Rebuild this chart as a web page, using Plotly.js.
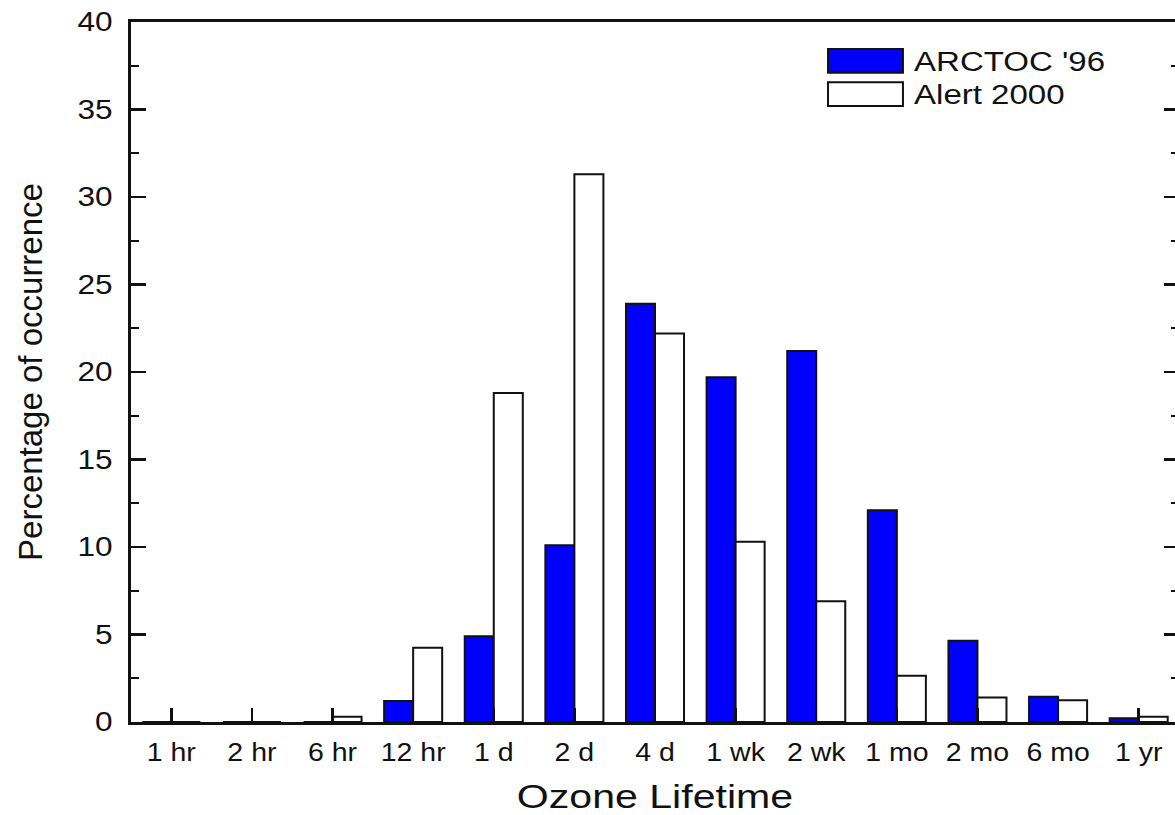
<!DOCTYPE html>
<html>
<head>
<meta charset="utf-8">
<script src="https://cdn.plot.ly/plotly-3.0.1.min.js"></script>
<style>
  html, body { margin: 0; padding: 0; overflow: hidden; background: #fff; }
  #chart { width: 1181px; height: 815px; }
</style>
</head>
<body>
<div id="chart"></div>
<script>
// Ozone lifetime classes
const lifetimes = ["1 hr", "2 hr", "6 hr", "12 hr", "1 d", "2 d", "4 d", "1 wk", "2 wk", "1 mo", "2 mo", "6 mo", "1 yr"];

// Percentage of occurrence for each campaign
const arctoc96 = [0, 0, 0, 1.2, 4.9, 10.1, 23.9, 19.7, 21.2, 12.1, 4.65, 1.45, 0.22];
const alert2000 = [0, 0, 0.3, 4.25, 18.8, 31.3, 22.2, 10.3, 6.9, 2.65, 1.4, 1.25, 0.3];

const seriesNames = ["ARCTOC '96", "Alert 2000"];
const seriesColors = ["#0000ff", "#ffffff"];

const yTicks = [0, 5, 10, 15, 20, 25, 30, 35, 40];

const xTitle = "Ozone Lifetime";
const yTitle = "Percentage of occurrence";

const font = "Liberation Sans, Arial, sans-serif";
const ink = "#111";

const traces = [arctoc96, alert2000].map((vals, i) => ({
  type: "bar",
  name: seriesNames[i],
  x: lifetimes,
  y: vals,
  marker: { color: seriesColors[i], line: { color: ink, width: 2 } },
  hoverinfo: "x+y+name"
}));

// Legend: large swatches with labels in the upper right
const legendShapes = [];
const legendNotes = [];
seriesNames.forEach((name, i) => {
  const top = 0.9614 - i * 0.0475;
  legendShapes.push({
    type: "rect", xref: "paper", yref: "paper",
    x0: 0.6651, x1: 0.7366, y0: top - 0.0338, y1: top,
    fillcolor: seriesColors[i], line: { color: ink, width: 2 }
  });
  legendNotes.push({
    xref: "paper", yref: "paper", x: 0.7455, y: top - 0.0175,
    xanchor: "left", yanchor: "middle", showarrow: false,
    text: name, font: { family: font, size: 28, color: ink }
  });
});

// Axis titles
const titleNotes = [
  { xref: "paper", yref: "paper", x: 0.5, y: -0.106, xanchor: "center", yanchor: "middle",
    showarrow: false, text: xTitle, font: { family: font, size: 33, color: ink } },
  { xref: "paper", yref: "paper", x: -0.0964, y: 0.5, xanchor: "center", yanchor: "middle",
    textangle: -90, showarrow: false, text: yTitle, font: { family: font, size: 33, color: ink } }
];

const layout = {
  width: 1181,
  height: 815,
  margin: { l: 131, r: 2, t: 22, b: 93 },
  paper_bgcolor: "#fff",
  plot_bgcolor: "#fff",
  showlegend: false,
  barmode: "group",
  bargap: 0.28,
  bargroupgap: 0,
  font: { family: font, color: ink },
  xaxis: {
    type: "category",
    range: [-0.5, 12.5],
    showline: true, linecolor: ink, linewidth: 3, mirror: true,
    ticks: "inside", ticklen: 14, tickwidth: 2.5, tickcolor: ink,
    showgrid: false, zeroline: false,
    tickfont: { family: font, size: 25, color: ink },
    ticklabelstandoff: 6
  },
  yaxis: {
    range: [0, 40],
    tickvals: yTicks,
    ticktext: yTicks.map(String),
    showline: true, linecolor: ink, linewidth: 3, mirror: "ticks",
    ticks: "inside", ticklen: 15, tickwidth: 2.5, tickcolor: ink,
    minor: { ticks: "inside", ticklen: 8, tickwidth: 2, tickcolor: ink, dtick: 2.5, showgrid: false },
    showgrid: false, zeroline: false,
    tickfont: { family: font, size: 27, color: ink },
    ticklabelstandoff: 10
  },
  shapes: legendShapes,
  annotations: legendNotes.concat(titleNotes)
};

// Widen horizontal lettering about a pivot (left, middle or right of the text box)
function widen(el, k, pivot) {
  const b = el.getBBox();
  const px = pivot === "start" ? b.x : pivot === "end" ? b.x + b.width : b.x + b.width / 2;
  const prev = el.getAttribute("transform") || "";
  el.setAttribute("transform", prev + " translate(" + px + ",0) scale(" + k + ",1) translate(" + (-px) + ",0)");
}

Plotly.newPlot("chart", traces, layout, { displayModeBar: false, staticPlot: true }).then(gd => {
  gd.querySelectorAll(".xtick text").forEach(t => widen(t, 1.14, "middle"));
  gd.querySelectorAll(".ytick text").forEach(t => widen(t, 1.17, "end"));
  const notes = gd.querySelectorAll(".annotation text");
  notes.forEach((t, i) => {
    if (i < 2) widen(t, 1.18, "start");
    else if (i === 2) widen(t, 1.245, "middle");
  });
});
</script>
</body>
</html>
